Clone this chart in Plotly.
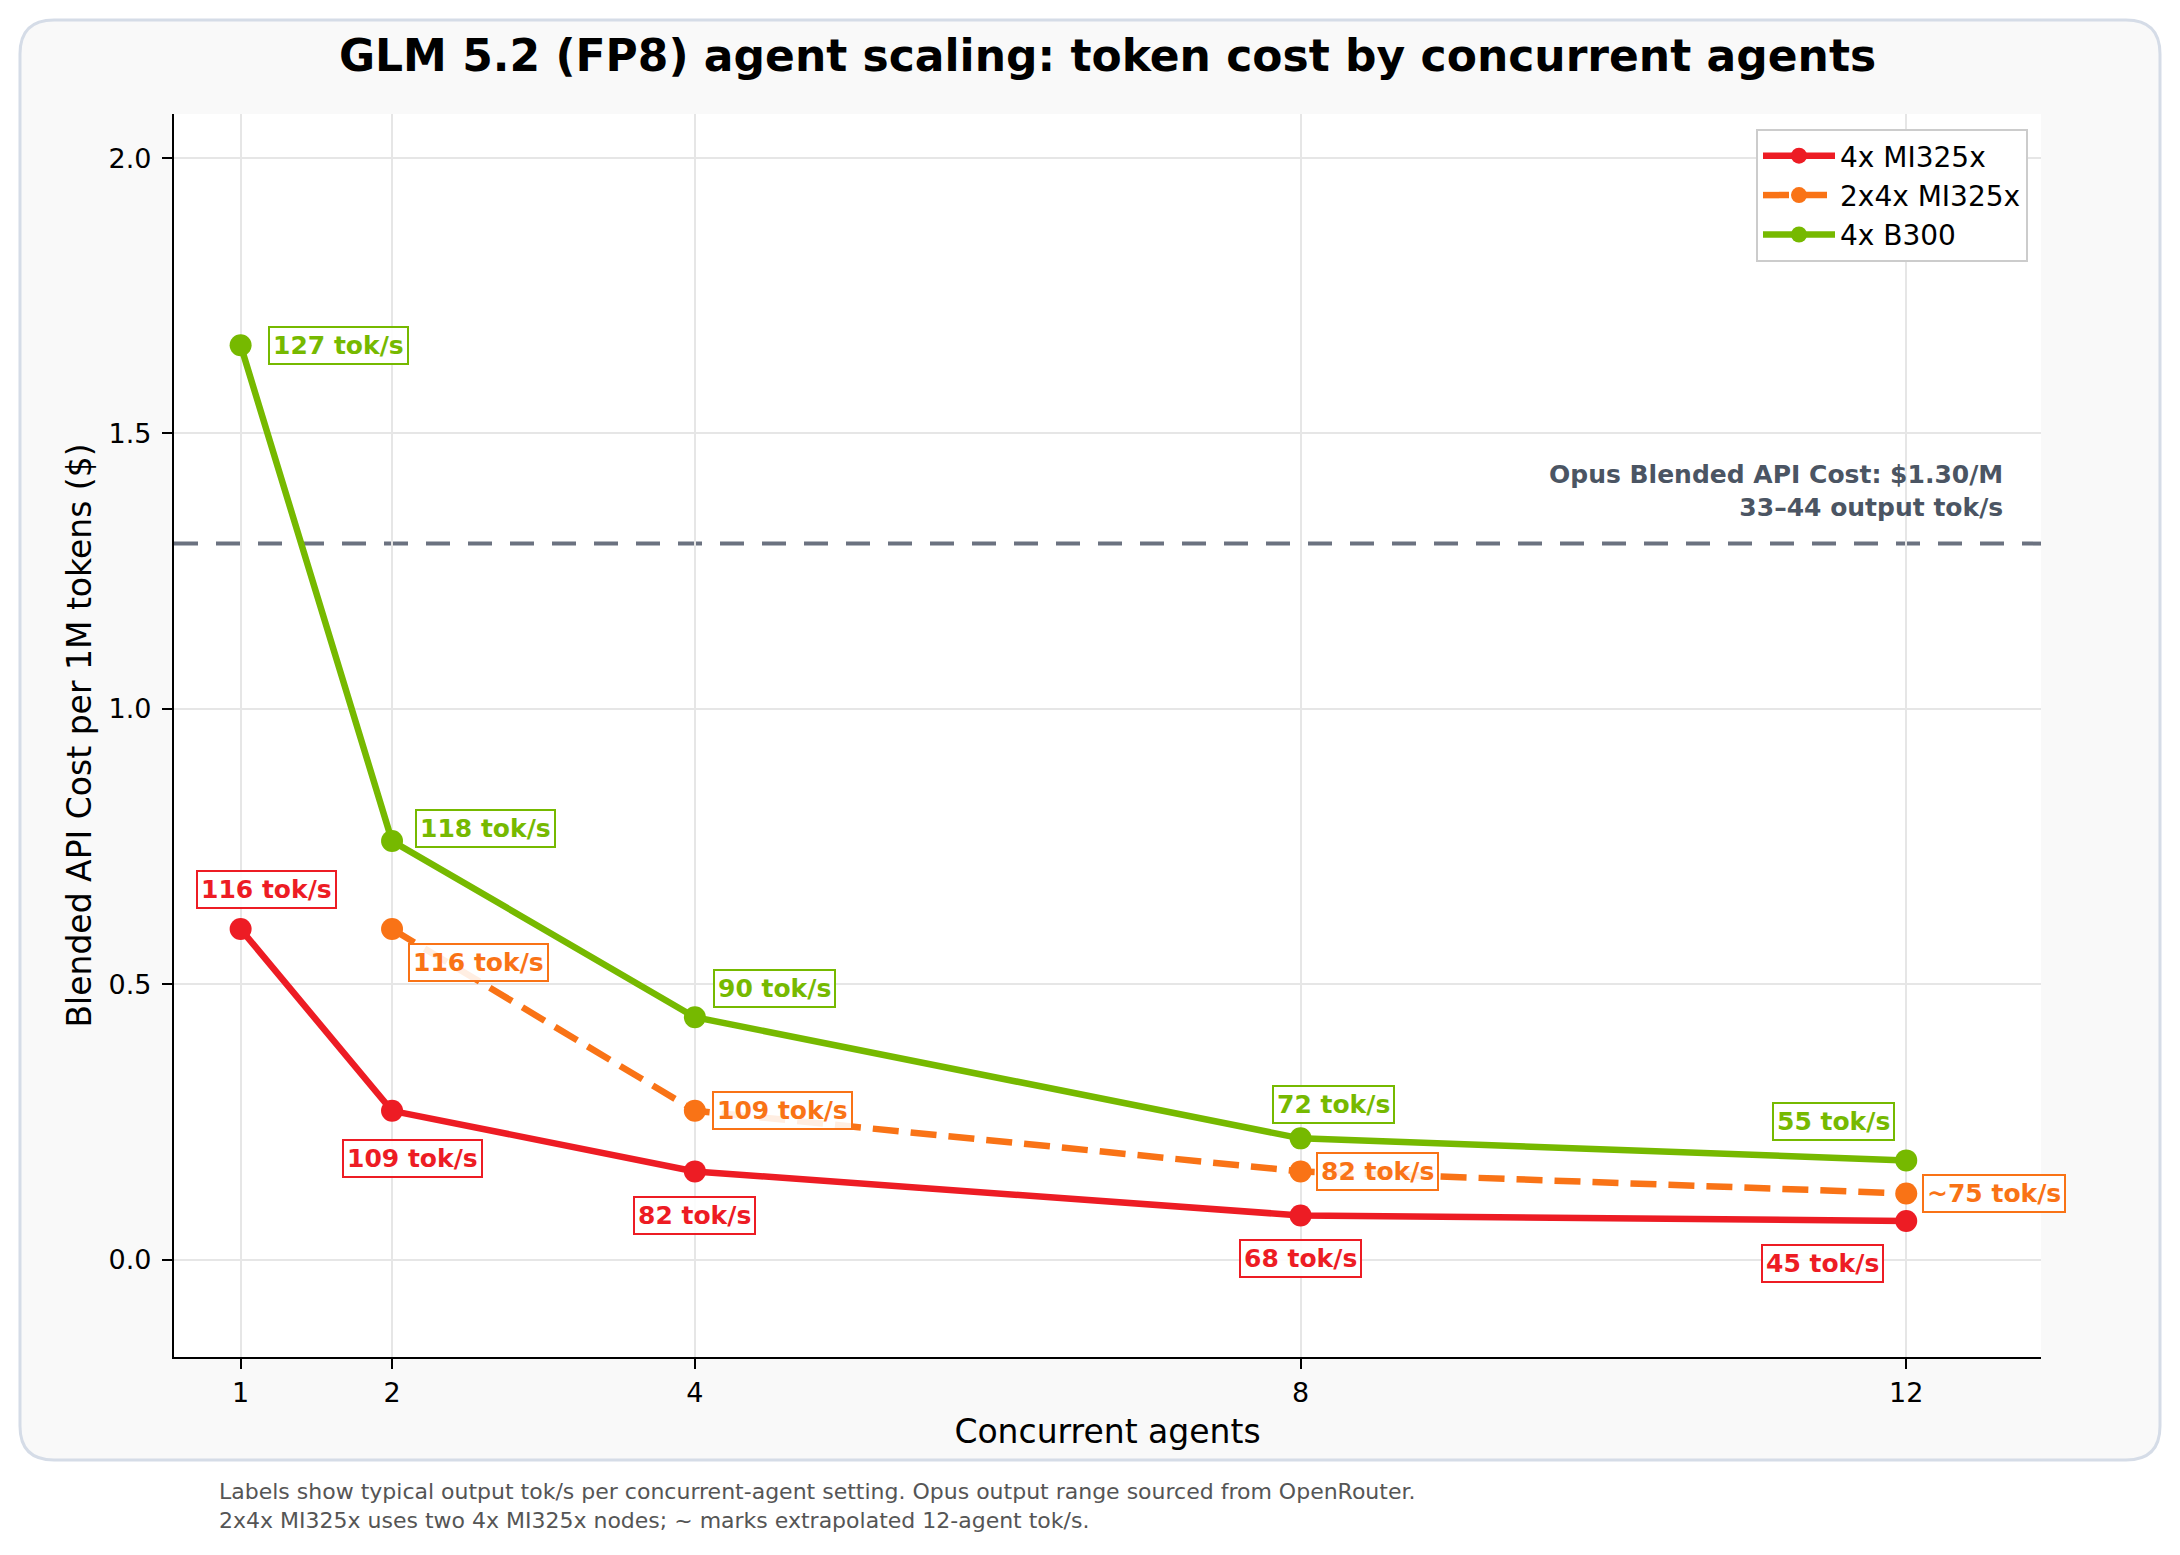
import plotly.graph_objects as go

# ---------------- data ----------------
agents = [1, 2, 4, 8, 12]
mi325_cost = [0.60, 0.27, 0.16, 0.08, 0.07]
mi325_tok = ["116 tok/s", "109 tok/s", "82 tok/s", "68 tok/s", "45 tok/s"]

agents_2x = [2, 4, 8, 12]
mi325_2x_cost = [0.60, 0.27, 0.16, 0.12]
mi325_2x_tok = ["116 tok/s", "109 tok/s", "82 tok/s", "~75 tok/s"]

b300_cost = [1.66, 0.76, 0.44, 0.22, 0.18]
b300_tok = ["127 tok/s", "118 tok/s", "90 tok/s", "72 tok/s", "55 tok/s"]

opus_cost = 1.30
opus_label = "Opus Blended API Cost: $1.30/M<br>33–44 output tok/s"

series_names = ["4x MI325x", "2x4x MI325x", "4x B300"]
x_ticks = [1, 2, 4, 8, 12]
y_ticks = [0.0, 0.5, 1.0, 1.5, 2.0]

title_text = "GLM 5.2 (FP8) agent scaling: token cost by concurrent agents"
x_title = "Concurrent agents"
y_title = "Blended API Cost per 1M tokens ($)"
footnote = ("Labels show typical output tok/s per concurrent-agent setting. Opus output range sourced from OpenRouter.<br>"
            "2x4x MI325x uses two 4x MI325x nodes; ~ marks extrapolated 12-agent tok/s.")

# ---------------- style ----------------
RED = "#ED1C24"
ORANGE = "#F97316"
GREEN = "#76B900"
GRAY_LINE = "#6B7280"
GRAY_TEXT = "#4B5563"
FONT = "DejaVu Sans"

WIDTH, HEIGHT = 2180, 1555
ML, MR, MT, MB = 174, 139, 114, 198
PW = WIDTH - ML - MR
PH = HEIGHT - MT - MB
PLOT_BOTTOM = HEIGHT - MB


def pxx(px):
    return (px - ML) / PW


def pxy(py):
    return (PLOT_BOTTOM - py) / PH


# label placement offsets (xanchor, xshift px, yshift px)
red_pos = [("center", 26, 40), ("center", 20, -48), ("center", 0, -44), ("center", 0, -43), ("center", -84, -43)]
orange_pos = [("left", 16, -33), ("left", 17, 0), ("left", 15, 0), ("left", 16, 0)]
green_pos = [("left", 27, 0), ("left", 23, 12), ("left", 18, 29), ("center", 33, 34), ("center", -73, 39)]

fig = go.Figure()

fig.add_trace(go.Scatter(
    x=agents, y=mi325_cost, name=series_names[0], mode="lines+markers",
    line=dict(color=RED, width=6.5), marker=dict(color=RED, size=22)))
fig.add_trace(go.Scatter(
    x=agents_2x, y=mi325_2x_cost, name=series_names[1], mode="lines+markers",
    line=dict(color=ORANGE, width=6.5, dash="26px,12px"), marker=dict(color=ORANGE, size=22)))
fig.add_trace(go.Scatter(
    x=agents, y=b300_cost, name=series_names[2], mode="lines+markers",
    line=dict(color=GREEN, width=6.5), marker=dict(color=GREEN, size=22)))

annotations = []


def add_labels(xs, ys, texts, positions, color):
    for xv, yv, t, (anc, xs_, ys_) in zip(xs, ys, texts, positions):
        annotations.append(dict(
            x=xv, y=yv, xref="x", yref="y", text="<b>" + t + "</b>", showarrow=False,
            xanchor=anc, yanchor="middle", xshift=xs_, yshift=ys_,
            font=dict(family=FONT, size=25, color=color),
            bgcolor="rgba(255,255,255,0.88)", bordercolor=color, borderwidth=2, borderpad=3))


add_labels(agents, mi325_cost, mi325_tok, red_pos, RED)
add_labels(agents_2x, mi325_2x_cost, mi325_2x_tok, orange_pos, ORANGE)
add_labels(agents, b300_cost, b300_tok, green_pos, GREEN)

# Opus reference label
annotations.append(dict(
    x=pxx(2005), y=opus_cost, xref="paper", yref="y", text="<b>" + opus_label + "</b>",
    showarrow=False, xanchor="right", yanchor="bottom", yshift=20, align="right",
    font=dict(family=FONT, size=25, color=GRAY_TEXT)))

# footnote
annotations.append(dict(
    x=pxx(217), y=pxy(1477), xref="paper", yref="paper", text=footnote, showarrow=False,
    xanchor="left", yanchor="top", align="left",
    font=dict(family=FONT, size=22, color="#555555")))

# card shape (rounded rect) in paper coords
x0, x1, y0, y1, r = 20, 2160, 20, 1460, 34


def P(px, py):
    return f"{pxx(px):.5f},{pxy(py):.5f}"


card_path = (f"M {P(x0 + r, y0)} L {P(x1 - r, y0)} Q {P(x1, y0)} {P(x1, y0 + r)} "
             f"L {P(x1, y1 - r)} Q {P(x1, y1)} {P(x1 - r, y1)} "
             f"L {P(x0 + r, y1)} Q {P(x0, y1)} {P(x0, y1 - r)} "
             f"L {P(x0, y0 + r)} Q {P(x0, y0)} {P(x0 + r, y0)} Z")

shapes = [
    dict(type="path", path=card_path, xref="paper", yref="paper", layer="below",
         fillcolor="#F9F9F9", line=dict(color="#D5DCE7", width=3)),
    dict(type="rect", x0=0, x1=1, y0=0, y1=1, xref="paper", yref="paper", layer="below",
         fillcolor="white", line=dict(width=0)),
    dict(type="line", x0=0, x1=1, y0=opus_cost, y1=opus_cost, xref="paper", yref="y",
         layer="below", line=dict(color=GRAY_LINE, width=4, dash="24px,18px")),
]

fig.update_layout(
    width=WIDTH, height=HEIGHT,
    margin=dict(l=ML, r=MR, t=MT, b=MB, autoexpand=False),
    paper_bgcolor="white", plot_bgcolor="rgba(0,0,0,0)",
    font=dict(family=FONT, color="black"),
    title=dict(text="<b>" + title_text + "</b>", x=pxx((ML + WIDTH - MR) / 2), xref="paper",
               xanchor="center", y=1 - 56 / HEIGHT, yref="container", yanchor="middle",
               font=dict(family=FONT, size=44, color="black")),
    xaxis=dict(range=[0.56, 12.89], tickvals=x_ticks, ticktext=[str(v) for v in x_ticks],
               showgrid=True, gridcolor="#E6E6E6", gridwidth=1.5, zeroline=False,
               showline=True, linecolor="black", linewidth=2.2,
               ticks="outside", ticklen=10, tickwidth=2, tickcolor="black",
               tickfont=dict(size=27, family=FONT, color="black"), ticklabelstandoff=0,
               title=dict(text=x_title, font=dict(size=33, family=FONT, color="black"), standoff=13)),
    yaxis=dict(range=[-0.177, 2.08], tickvals=y_ticks, tickformat=".1f",
               showgrid=True, gridcolor="#E6E6E6", gridwidth=1.5, zeroline=False,
               showline=True, linecolor="black", linewidth=2.2,
               ticks="outside", ticklen=10, tickwidth=2, tickcolor="black",
               tickfont=dict(size=27, family=FONT, color="black"), ticklabelstandoff=5,
               title=dict(text=y_title, font=dict(size=33, family=FONT, color="black"), standoff=7)),
    legend=dict(x=pxx(2028), y=pxy(129), xanchor="right", yanchor="top",
                bgcolor="white", bordercolor="#CCCCCC", borderwidth=2,
                font=dict(size=28, family=FONT, color="black"), itemwidth=72,
                tracegroupgap=0),
    annotations=annotations,
    shapes=shapes,
    showlegend=True,
)

fig.write_html("out.html")
